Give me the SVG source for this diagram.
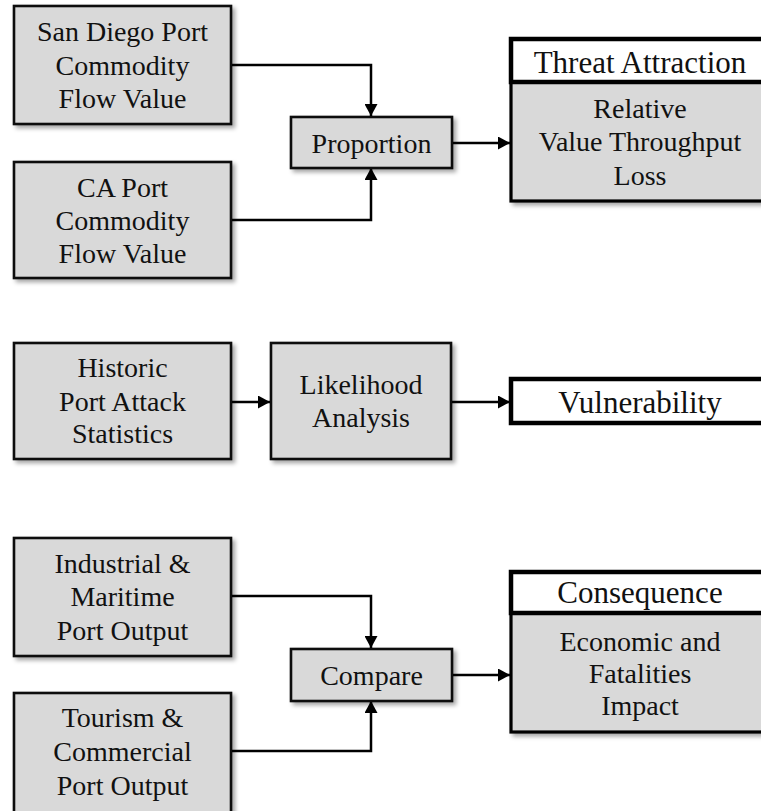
<svg xmlns="http://www.w3.org/2000/svg" width="761" height="811" viewBox="0 0 761 811">
  <defs>
    <filter id="shadow" x="-10%" y="-10%" width="130%" height="130%">
      <feDropShadow dx="3" dy="3" stdDeviation="2" flood-color="#000" flood-opacity="0.35"/>
    </filter>
    <marker id="arrow" markerUnits="userSpaceOnUse" markerWidth="13" markerHeight="13" refX="12" refY="6.5" orient="auto">
      <path d="M0,0 L12,6.5 L0,13 z" fill="#000"/>
    </marker>
  </defs>
  <style>
    .box { fill: #d9d9d9; stroke: #111; stroke-width: 2.6; filter: url(#shadow); }
    .head { fill: #fff; stroke: #000; stroke-width: 4.5; }
    .body { fill: #d9d9d9; stroke: #000; stroke-width: 3.2; filter: url(#shadow); }
    .t { font-family: "Liberation Serif", "Times New Roman", serif; font-size: 28px; fill: #111; text-anchor: middle; }
    .h { font-family: "Liberation Serif", "Times New Roman", serif; font-size: 31px; fill: #111; text-anchor: middle; }
    .conn { fill: none; stroke: #000; stroke-width: 2.5; marker-end: url(#arrow); }
  </style>

  <g id="connectors">
    <path class="conn" d="M231,65 H371 V116"/>
    <path class="conn" d="M231,220 H371 V168"/>
    <path class="conn" d="M452,143 H510"/>
    <path class="conn" d="M231,402 H270"/>
    <path class="conn" d="M451,402 H510"/>
    <path class="conn" d="M231,596 H371 V648"/>
    <path class="conn" d="M231,751 H371 V701"/>
    <path class="conn" d="M452,675 H510"/>
  </g>

  <g id="sd-flow">
    <rect class="box" x="14" y="6" width="217" height="118"/>
    <text class="t" x="122.5" y="41">San Diego Port</text>
    <text class="t" x="122.5" y="75">Commodity</text>
    <text class="t" x="122.5" y="108">Flow Value</text>
  </g>

  <g id="ca-flow">
    <rect class="box" x="14" y="162" width="217" height="116"/>
    <text class="t" x="122.5" y="197">CA Port</text>
    <text class="t" x="122.5" y="230">Commodity</text>
    <text class="t" x="122.5" y="263">Flow Value</text>
  </g>

  <g id="proportion">
    <rect class="box" x="291" y="117" width="161" height="51"/>
    <text class="t" x="371.5" y="153">Proportion</text>
  </g>

  <g id="threat-attraction">
    <rect class="body" x="511" y="82" width="262" height="119"/>
    <rect class="head" x="511" y="39" width="262" height="43"/>
    <text class="h" x="640" y="73">Threat Attraction</text>
    <text class="t" x="640" y="118">Relative</text>
    <text class="t" x="640" y="151">Value Throughput</text>
    <text class="t" x="640" y="185">Loss</text>
  </g>

  <g id="historic">
    <rect class="box" x="14" y="343" width="217" height="116"/>
    <text class="t" x="122.5" y="377">Historic</text>
    <text class="t" x="122.5" y="411">Port Attack</text>
    <text class="t" x="122.5" y="443">Statistics</text>
  </g>

  <g id="likelihood">
    <rect class="box" x="271" y="343" width="180" height="116"/>
    <text class="t" x="361" y="394">Likelihood</text>
    <text class="t" x="361" y="427">Analysis</text>
  </g>

  <g id="vulnerability">
    <rect class="head" x="511" y="379" width="262" height="44"/>
    <text class="h" x="640" y="413">Vulnerability</text>
  </g>

  <g id="industrial">
    <rect class="box" x="14" y="538" width="217" height="118"/>
    <text class="t" x="122.5" y="573">Industrial &amp;</text>
    <text class="t" x="122.5" y="606">Maritime</text>
    <text class="t" x="122.5" y="640">Port Output</text>
  </g>

  <g id="tourism">
    <rect class="box" x="14" y="693" width="217" height="121"/>
    <text class="t" x="122.5" y="727">Tourism &amp;</text>
    <text class="t" x="122.5" y="761">Commercial</text>
    <text class="t" x="122.5" y="795">Port Output</text>
  </g>

  <g id="compare">
    <rect class="box" x="291" y="649" width="161" height="52"/>
    <text class="t" x="371.5" y="685">Compare</text>
  </g>

  <g id="consequence">
    <rect class="body" x="511" y="613" width="262" height="119"/>
    <rect class="head" x="511" y="572" width="262" height="41"/>
    <text class="h" x="640" y="603">Consequence</text>
    <text class="t" x="640" y="651">Economic and</text>
    <text class="t" x="640" y="683">Fatalities</text>
    <text class="t" x="640" y="715">Impact</text>
  </g>
</svg>
